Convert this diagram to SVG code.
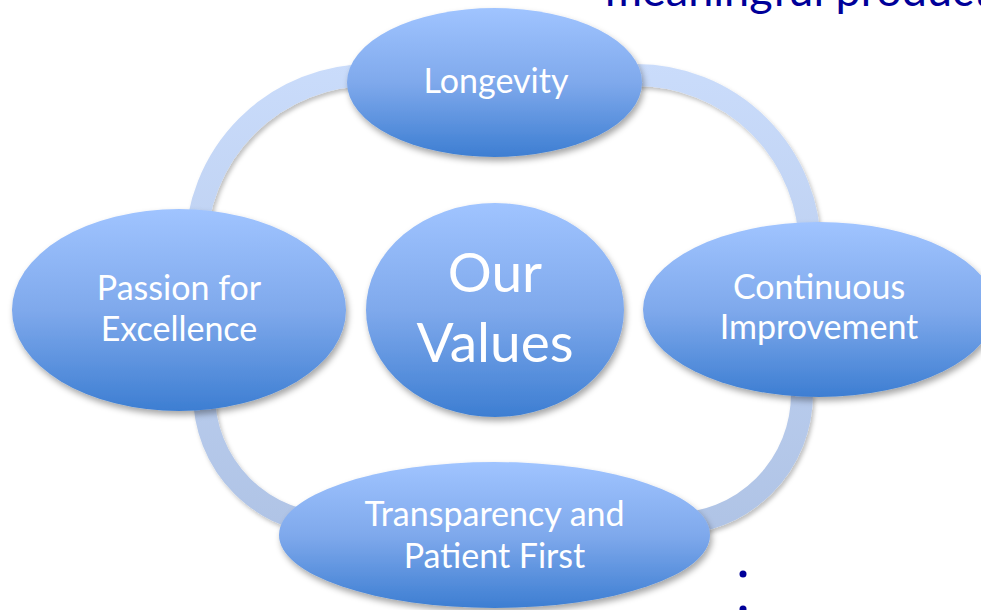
<svg xmlns="http://www.w3.org/2000/svg" width="981" height="610" viewBox="0 0 981 610">
  <style>
    .node { fill: url(#nodeGrad); filter: url(#shadow); }
    .label { font-family: Lato, "Liberation Sans", sans-serif; fill: #ffffff; text-anchor: middle; font-size: 34px; }
    .big { font-size: 55px; }
    .ring { fill: none; stroke: url(#ringGrad); stroke-width: 22; filter: url(#ringShadow); }
    .title { font-family: Lato, "Liberation Sans", sans-serif; fill: #000099; font-size: 45px; }
  </style>
  <defs>
    <linearGradient id="nodeGrad" x1="0" y1="0" x2="0" y2="1">
      <stop offset="0" stop-color="#a0c4ff"/>
      <stop offset="0.5" stop-color="#7fa9ec"/>
      <stop offset="1" stop-color="#3d7ed2"/>
    </linearGradient>
    <linearGradient id="ringGrad" gradientUnits="userSpaceOnUse" x1="0" y1="60" x2="0" y2="540">
      <stop offset="0" stop-color="#cadcfb"/>
      <stop offset="1" stop-color="#afc3e5"/>
    </linearGradient>
    <filter id="shadow" x="-10%" y="-10%" width="125%" height="130%">
      <feDropShadow dx="2" dy="4" stdDeviation="3" flood-color="#000000" flood-opacity="0.35"/>
    </filter>
    <filter id="ringShadow" x="-10%" y="-10%" width="125%" height="130%">
      <feDropShadow dx="2" dy="3" stdDeviation="2" flood-color="#000000" flood-opacity="0.25"/>
    </filter>
  </defs>

  <text class="title" x="605" y="6">meaningful products</text>

  <g id="connectors">
    <path class="ring" d="M 196 249 A 174 174 0 0 1 370 75"/>
    <path class="ring" d="M 636 75 A 174 174 0 0 1 810 249"/>
    <path class="ring" d="M 802 394 A 130 130 0 0 1 672 524"/>
    <path class="ring" d="M 334 524 A 130 130 0 0 1 204 394"/>
  </g>

  <g id="node-longevity">
    <ellipse class="node" cx="494.5" cy="82.5" rx="147.5" ry="74.5"/>
    <text class="label" x="496" y="93">Longevity</text>
  </g>

  <g id="node-passion">
    <ellipse class="node" cx="179" cy="310" rx="167" ry="101"/>
    <text class="label" x="179" y="300">Passion for</text>
    <text class="label" x="179" y="341">Excellence</text>
  </g>

  <g id="node-values">
    <ellipse class="node" cx="495" cy="310" rx="129" ry="107"/>
    <text class="label big" x="495" y="292">Our</text>
    <text class="label big" x="495" y="362">Values</text>
  </g>

  <g id="node-continuous">
    <ellipse class="node" cx="819" cy="309.5" rx="176" ry="87.5"/>
    <text class="label" x="819" y="299">Continuous</text>
    <text class="label" x="819" y="339">Improvement</text>
  </g>

  <g id="node-transparency">
    <ellipse class="node" cx="494.5" cy="535" rx="215.5" ry="73"/>
    <text class="label" x="494.5" y="526">Transparency and</text>
    <text class="label" x="494.5" y="568">Patient First</text>
  </g>

  <circle cx="743" cy="574" r="3.5" fill="#000099"/>
  <circle cx="743" cy="609" r="3.5" fill="#000099"/>
</svg>
